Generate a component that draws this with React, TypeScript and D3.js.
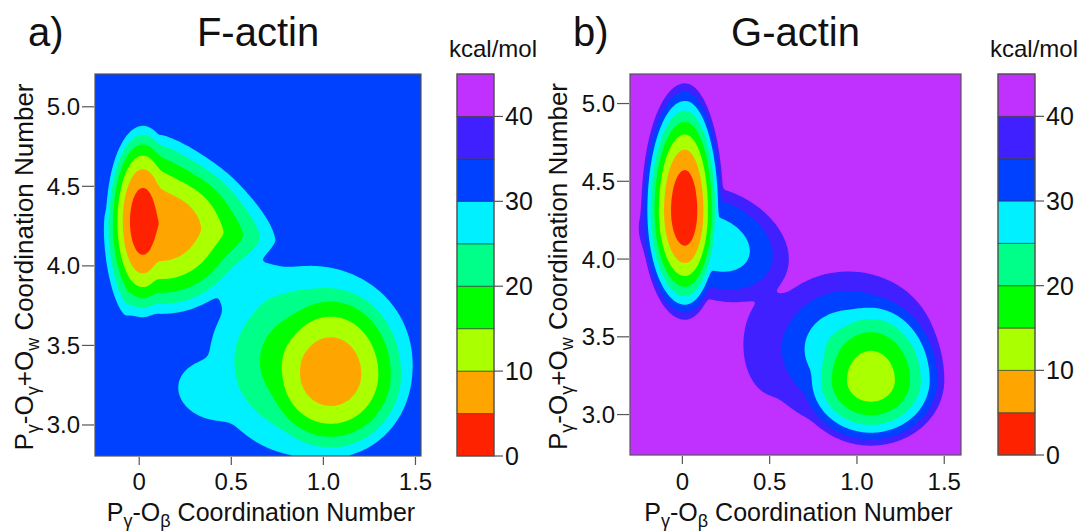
import React, { useMemo } from 'react'
import * as d3 from 'd3'

// contour levels in kcal/mol and the colour of each band (low to high)
const levels = [0, 5, 10, 15, 20, 25, 30, 35, 40, 45]
const bandColors = ['#ff2200', '#ffa500', '#aaff00', '#00ff00', '#00ff88', '#00f0ff', '#0040ff', '#4020ff', '#c030ff']
const barTicks = [0, 10, 20, 30, 40]
const xTicks = [0, 0.5, 1.0, 1.5]
const yTicks = [3.0, 3.5, 4.0, 4.5, 5.0]

// free-energy basins:
// centre (x, y), floor in kcal/mol, half-widths on each side at the rim level,
// tilt in degrees, wall: 2 = bowl, 1 = cone, round: 2 = ellipse, lower = diamond-like
const fActinBasins = [
	{ x: 0.02, y: 4.28, floor: 1.5, left: 0.2, right: 0.2, down: 0.6, up: 0.6, tilt: 0, wall: 2, round: 2 },
	{ x: 0.03, y: 4.28, floor: 5, left: 0.22, right: 0.72, down: 0.6, up: 0.55, tilt: -10, wall: 1.8, round: 1.4 },
	{ x: 0.13, y: 4.25, floor: 6.5, left: 0.3, right: 0.48, down: 0.55, up: 0.46, tilt: 0, wall: 2, round: 2 },
	{ x: 1.04, y: 3.32, floor: 6.5, left: 0.43, right: 0.43, down: 0.52, up: 0.6, tilt: 0, wall: 2, round: 2 },
	{ x: 0.93, y: 3.4, floor: 10, left: 0.55, right: 0.55, down: 0.6, up: 0.6, tilt: 0, wall: 1, round: 2 },
	{ x: 0.43, y: 3.22, floor: 26, left: 0.22, right: 0.22, down: 0.19, up: 0.19, tilt: -15, wall: 2, round: 2 },
	{ x: 0.68, y: 3.8, floor: 26, left: 0.28, right: 0.28, down: 0.2, up: 0.2, tilt: -35, wall: 2, round: 2 },
]
const gActinBasins = [
	{ x: 0.015, y: 4.31, floor: 1, left: 0.25, right: 0.22, down: 0.7, up: 0.82, tilt: 0, wall: 2, round: 2 },
	{ x: 0.18, y: 4.1, floor: 27, left: 0.46, right: 0.46, down: 0.34, up: 0.34, tilt: -32, wall: 2, round: 2 },
	{ x: 1.08, y: 3.22, floor: 12, left: 0.42, right: 0.42, down: 0.42, up: 0.58, tilt: 0, wall: 2, round: 2 },
	{ x: 0.95, y: 3.42, floor: 20, left: 0.5, right: 0.5, down: 0.5, up: 0.5, tilt: 0, wall: 1, round: 2 },
	{ x: 0.52, y: 3.45, floor: 36, left: 0.17, right: 0.17, down: 0.32, up: 0.32, tilt: 0, wall: 2, round: 2 },
]

const font = 'Liberation Sans, Arial, sans-serif'
const nx = 180
const ny = 200

const panels = [
	{
		tag: 'a)', name: 'F-actin', basins: fActinBasins, rim: 30, cap: 32,
		left: 95, right: 421, top: 74, bottom: 456,
		xDomain: [-0.24, 1.53], yDomain: [2.805, 5.206],
		barLeft: 457, tagX: 28, yTitleX: 33, yLabelX: 80,
	},
	{
		tag: 'b)', name: 'G-actin', basins: gActinBasins, rim: 40, cap: 44,
		left: 630, right: 961, top: 74, bottom: 455,
		xDomain: [-0.3, 1.596], yDomain: [2.74, 5.19],
		barLeft: 998, tagX: 573, yTitleX: 567, yLabelX: 615,
	},
]

function energyAt(basins, rim, x, y) {
	let s = 0
	const T = 1
	for (const b of basins) {
		const a = (b.tilt * Math.PI) / 180
		const dx = x - b.x
		const dy = y - b.y
		const u = dx * Math.cos(a) + dy * Math.sin(a)
		const v = -dx * Math.sin(a) + dy * Math.cos(a)
		const ru = Math.abs(u) / (u >= 0 ? b.right : b.left)
		const rv = Math.abs(v) / (v >= 0 ? b.up : b.down)
		const r = Math.pow(ru ** b.round + rv ** b.round, 1 / b.round)
		const e = b.floor + (rim - b.floor) * Math.pow(r, b.wall)
		s += Math.exp(-e / T)
	}
	return s > 0 ? -T * Math.log(s) : 1e3
}

const Sub = ({ children, size = 18 }) => (
	<tspan dy={6} fontSize={size}>
		{children}
	</tspan>
)

function Panel({ p }) {
	const xScale = d3.scaleLinear().domain(p.xDomain).range([p.left, p.right])
	const yScale = d3.scaleLinear().domain(p.yDomain).range([p.bottom, p.top])
	const barScale = d3.scaleLinear().domain([0, 45]).range([p.bottom, p.top])

	const bands = useMemo(() => {
		const [x0, x1] = p.xDomain
		const [y0, y1] = p.yDomain
		const values = new Array(nx * ny)
		for (let j = 0; j < ny; j++) {
			for (let i = 0; i < nx; i++) {
				const x = x0 + ((i + 0.5) * (x1 - x0)) / nx
				const y = y1 - ((j + 0.5) * (y1 - y0)) / ny
				values[j * nx + i] = -Math.min(p.cap, energyAt(p.basins, p.rim, x, y))
			}
		}
		const lv = levels.slice(1).filter(l => l < p.cap)
		const contours = d3.contours().size([nx, ny]).thresholds(lv.map(l => -l))(values)
		const transform = d3.geoTransform({
			point(cx, cy) {
				this.stream.point(
					xScale(x0 + (cx * (x1 - x0)) / nx),
					yScale(y1 - (cy * (y1 - y0)) / ny),
				)
			},
		})
		const path = d3.geoPath(transform)
		return contours
			.map(c => ({ level: -c.value, d: path(c) }))
			.sort((a, b) => b.level - a.level)
	}, [p])

	const capBand = Math.floor(p.cap / 5)
	const cx = (p.left + p.right) / 2
	const cy = (p.top + p.bottom) / 2
	const barRight = p.barLeft + 37

	return (
		<g fontFamily={font} fill="#111">
			<text x={p.tagX} y={46} fontSize={40}>{p.tag}</text>
			<text x={cx} y={46} fontSize={40} textAnchor="middle">{p.name}</text>

			<rect x={p.left} y={p.top} width={p.right - p.left} height={p.bottom - p.top} fill={bandColors[capBand]} />
			{bands.map(b => (
				<path key={b.level} d={b.d} fill={bandColors[b.level / 5 - 1]} />
			))}
			<rect x={p.left} y={p.top} width={p.right - p.left} height={p.bottom - p.top} fill="none" stroke="#555" strokeWidth={1.2} />

			{xTicks.map(t => (
				<g key={t}>
					<line x1={xScale(t)} x2={xScale(t)} y1={p.bottom + 1} y2={p.bottom + 9} stroke="#555" strokeWidth={1.2} />
					<text x={xScale(t)} y={490} fontSize={24} textAnchor="middle">{t === 0 ? '0' : t.toFixed(1)}</text>
				</g>
			))}
			{yTicks.map(t => (
				<g key={t}>
					<line x1={p.left - 13} x2={p.left - 1} y1={yScale(t)} y2={yScale(t)} stroke="#555" strokeWidth={1.2} />
					<text x={p.yLabelX} y={yScale(t) + 8.5} fontSize={24} textAnchor="end">{t.toFixed(1)}</text>
				</g>
			))}

			<text x={cx + 3} y={521} fontSize={25} textAnchor="middle">
				P<Sub>γ</Sub><tspan dy={-6}>-O</tspan><Sub>β</Sub><tspan dy={-6}> Coordination Number</tspan>
			</text>
			<text transform={`translate(${p.yTitleX},${cy + 2}) rotate(-90)`} fontSize={26} textAnchor="middle">
				P<Sub>γ</Sub><tspan dy={-6}>-O</tspan><Sub>γ</Sub><tspan dy={-6}>+O</tspan><Sub>w</Sub>
				<tspan dy={-6}> Coordination Number</tspan>
			</text>

			<text x={p.barLeft + 36} y={57} fontSize={24} textAnchor="middle">kcal/mol</text>
			{bandColors.map((c, i) => (
				<rect key={c} x={p.barLeft} width={37} y={barScale(levels[i + 1])} height={barScale(levels[i]) - barScale(levels[i + 1])}
					fill={c} stroke="#333" strokeOpacity={0.6} strokeWidth={1} />
			))}
			<rect x={p.barLeft} y={p.top} width={37} height={p.bottom - p.top} fill="none" stroke="#555" strokeWidth={1.2} />
			{barTicks.map(t => (
				<g key={t}>
					<line x1={barRight} x2={barRight + 9} y1={barScale(t)} y2={barScale(t)} stroke="#555" strokeWidth={1.2} />
					<text x={barRight + 11} y={barScale(t) + 9} fontSize={25}>{t}</text>
				</g>
			))}
		</g>
	)
}

export default function App() {
	return (
		<svg width={1081} height={532} style={{ position: 'absolute', left: 0, top: 0, background: '#fff' }}>
			{panels.map(p => (
				<Panel key={p.name} p={p} />
			))}
		</svg>
	)
}
